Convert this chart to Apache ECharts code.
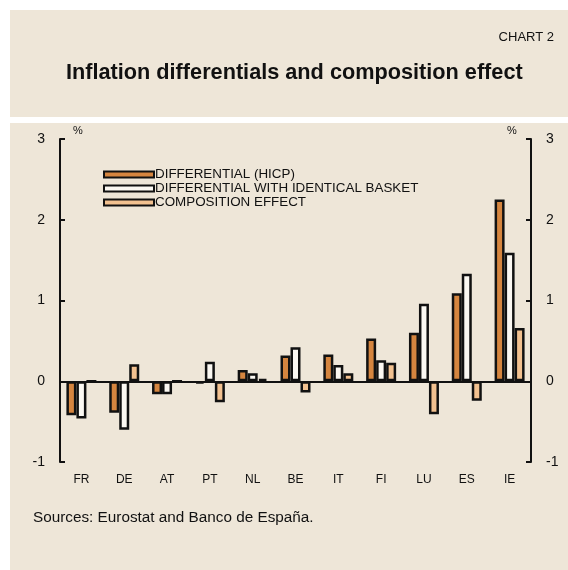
<!DOCTYPE html>
<html>
<head>
<meta charset="utf-8">
<script src="https://cdn.jsdelivr.net/npm/echarts@6/dist/echarts.min.js"></script>
<style>
html,body{margin:0;padding:0;background:#fff;}
#main{width:568px;height:570px;}
</style>
</head>
<body>
<div id="main"></div>
<script>
// countries on the x axis
var countries = ['FR', 'DE', 'AT', 'PT', 'NL', 'BE', 'IT', 'FI', 'LU', 'ES', 'IE'];
// differential (HICP)
var hicp = [-0.42, -0.39, -0.16, -0.03, 0.14, 0.32, 0.33, 0.53, 0.60, 1.09, 2.25];
// differential with identical basket
var identical = [-0.46, -0.60, -0.16, 0.24, 0.10, 0.42, 0.20, 0.26, 0.96, 1.33, 1.59];
// composition effect
var composition = [0.0, 0.21, 0.0, -0.26, 0.03, -0.14, 0.10, 0.23, -0.41, -0.24, 0.66];
var yTicks = [-1, 0, 1, 2, 3];

var myChart = echarts.init(document.getElementById('main'));
var fnt = '"Liberation Sans", Arial, sans-serif';
var bg = '#EEE6D8';

function barSeries(name, data, color, extra) {
    var s = {
        name: name,
        type: 'bar',
        data: data,
        barWidth: 10,
        barGap: '0%',
        itemStyle: { color: color, borderColor: '#111', borderWidth: 2.5 }
    };
    if (extra) { for (var k in extra) s[k] = extra[k]; }
    return s;
}

var yAxisBase = {
    type: 'value',
    min: yTicks[0],
    max: yTicks[yTicks.length - 1],
    interval: 1,
    axisLine: { show: true, lineStyle: { color: '#111', width: 2 } },
    axisTick: { show: true, inside: true, length: 5, lineStyle: { color: '#111', width: 2 } },
    axisLabel: { color: '#111', fontSize: 14, fontFamily: fnt, margin: 15 },
    splitLine: { show: false }
};

var option = {
    backgroundColor: '#fff',
    animation: false,
    graphic: [
        { type: 'rect', z: -10, shape: { x: 10, y: 10, width: 558, height: 107 }, style: { fill: bg } },
        { type: 'rect', z: -10, shape: { x: 10, y: 123, width: 558, height: 447 }, style: { fill: bg } },
        { type: 'text', left: 73, top: 125, style: { text: '%', fontSize: 11, fontFamily: fnt, fill: '#111' } },
        { type: 'text', left: 507, top: 125, style: { text: '%', fontSize: 11, fontFamily: fnt, fill: '#111' } }
    ],
    title: [
        { text: 'CHART 2', right: 14, top: 31, padding: 0, textStyle: { fontSize: 13, fontWeight: 'normal', fontFamily: fnt, color: '#111' } },
        { text: 'Inflation differentials and composition effect', left: 66, top: 62, padding: 0, textStyle: { fontSize: 21.7, fontWeight: 'bold', fontFamily: fnt, color: '#111' } },
        { text: 'Sources: Eurostat and Banco de España.', left: 33, top: 510, padding: 0, textStyle: { fontSize: 15.3, fontWeight: 'normal', fontFamily: fnt, color: '#111' } }
    ],
    legend: {
        orient: 'vertical',
        left: 103,
        top: 168,
        padding: 0,
        itemWidth: 50,
        itemHeight: 6,
        itemGap: 1,
        icon: 'rect',
        textStyle: { fontSize: 13.4, fontFamily: fnt, color: '#111', padding: [0, 0, 0, -4] },
        data: ['DIFFERENTIAL (HICP)', 'DIFFERENTIAL WITH IDENTICAL BASKET', 'COMPOSITION EFFECT']
    },
    grid: { left: 60, right: 37, top: 139, bottom: 108 },
    xAxis: {
        type: 'category',
        data: countries,
        axisLine: { show: false },
        axisTick: { show: false },
        axisLabel: { color: '#111', fontSize: 12, fontFamily: fnt, margin: 12 }
    },
    yAxis: [
        Object.assign({}, yAxisBase, { position: 'left' }),
        Object.assign({}, yAxisBase, { position: 'right' })
    ],
    series: [
        barSeries('DIFFERENTIAL (HICP)', hicp, '#D5853F', {
            markLine: {
                silent: true,
                symbol: 'none',
                label: { show: false },
                lineStyle: { color: '#111', width: 2, type: 'solid' },
                data: [{ yAxis: 0 }]
            }
        }),
        barSeries('DIFFERENTIAL WITH IDENTICAL BASKET', identical, '#FBF8F2'),
        barSeries('COMPOSITION EFFECT', composition, '#F2C190')
    ]
};
myChart.setOption(option);
</script>
</body>
</html>
